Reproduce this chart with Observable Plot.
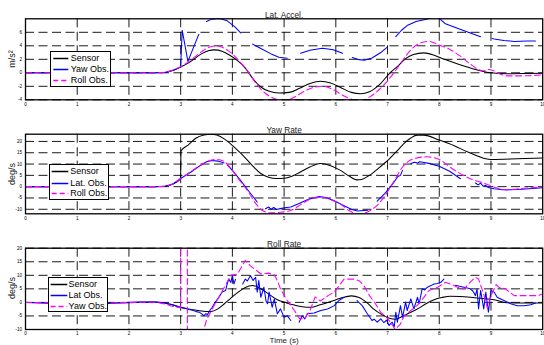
<!DOCTYPE html>
<html><head><meta charset="utf-8">
<script src="https://cdn.jsdelivr.net/npm/d3@7"></script>
<script src="https://cdn.jsdelivr.net/npm/@observablehq/plot@0.6"></script>
<style>
body{margin:0;background:#fff;font-family:"Liberation Sans",Arial,sans-serif;}
#wrap{position:relative;width:544px;height:345px;overflow:hidden;background:#fff;}
.panel{position:absolute;left:0;}
.legend{position:absolute;border:1.2px solid #000;background:#fff;box-sizing:border-box;}
.legend .row{position:absolute;left:0;right:0;height:11px;font-size:9px;line-height:11px;white-space:nowrap;color:#000;}
.legend svg{position:absolute;left:0;top:0;}
.ylab{position:absolute;font-size:9px;color:#222;white-space:nowrap;transform:translate(-50%,-50%) rotate(-90deg);line-height:1;}
</style></head>
<body><div id="wrap"></div>
<script>
// ---- tick values ----
const xTicks = [0,1,2,3,4,5,6,7,8,9,10];
const yTicksLat = [-4,-2,0,2,4,6];
const yTicksYaw = [-10,-5,0,5,10,15,20];
const yTicksRoll = [-10,-5,0,5,10,15,20];
const titles = ["Lat. Accel.", "Yaw Rate", "Roll Rate"];
const yLabels = ["m/s\u00B2", "deg/s", "deg/s"];
const xLabel = "Time (s)";
const legendLat = ["Sensor", "Yaw Obs.", "Roll Obs."];
const legendYaw = ["Sensor", "Lat. Obs.", "Roll Obs."];
const legendRoll = ["Sensor", "Lat Obs.", "Yaw Obs."];

// ---- Lat. Accel. (m/s^2) ----
const latSensor = [[0,0],[2.5,0],[2.7,0.05],[2.85,0.35],[3.0,0.85],[3.2,1.7],[3.4,2.8],[3.55,3.3],[3.65,3.4],[3.8,3.2],[3.95,2.6],[4.1,1.8],[4.25,0.7],[4.4,-0.9],[4.55,-2.1],[4.7,-2.7],[4.9,-3.0],[5.1,-2.9],[5.3,-2.3],[5.5,-1.6],[5.7,-1.25],[5.9,-1.5],[6.1,-2.2],[6.3,-2.9],[6.48,-3.1],[6.65,-2.8],[6.85,-1.7],[7.05,0.0],[7.2,1.0],[7.35,2.1],[7.5,2.7],[7.7,2.95],[7.9,2.6],[8.1,2.0],[8.4,1.2],[8.7,0.5],[9.0,0.0],[9.3,-0.15],[9.7,-0.1],[10,-0.05]];
const latYawObs = [[0,0],[2.5,0],[2.7,0.05],[2.85,0.35],[3.0,0.85],[3.03,6.3],[3.14,1.7],[3.35,5.7],[3.4,null],[3.5,7.6],[3.6,7.95],[3.75,8.05],[3.9,7.7],[4.05,6.8],[4.16,5.9],[4.25,null],[4.39,4.25],[4.55,3.6],[4.75,2.8],[4.9,2.3],[5.06,2.15],[5.2,null],[5.32,2.9],[5.5,3.35],[5.74,3.65],[5.95,3.4],[6.13,2.9],[6.2,null],[6.32,2.25],[6.45,1.95],[6.55,1.85],[6.7,2.2],[6.87,3.0],[7.0,3.85],[7.1,null],[7.16,5.35],[7.27,6.3],[7.38,7.0],[7.55,7.6],[7.75,7.95],[7.95,8.4],[8.12,7.25],[8.35,6.6],[8.6,5.9],[8.8,5.35],[8.9,null],[9.02,5.1],[9.06,5.0],[9.25,4.8],[9.45,4.65],[9.7,4.7],[9.86,4.7]];
const latRollObs = [[0,0],[2.5,0],[2.7,0.1],[2.85,0.4],[3.0,0.9],[3.2,1.9],[3.4,3.1],[3.55,3.8],[3.7,4.0],[3.85,3.6],[4.0,2.8],[4.15,1.6],[4.3,0.2],[4.45,-1.5],[4.6,-2.8],[4.75,-3.6],[4.9,-4.0],[5.05,-4.05],[5.2,-3.6],[5.4,-2.7],[5.6,-2.1],[5.75,-2.0],[5.95,-2.5],[6.15,-3.4],[6.35,-4.0],[6.5,-4.1],[6.65,-3.6],[6.85,-2.4],[7.0,-1.2],[7.15,0.3],[7.3,1.9],[7.45,3.4],[7.6,4.3],[7.8,4.65],[8.0,4.1],[8.2,3.5],[8.4,2.5],[8.6,1.3],[8.75,0.5],[8.85,0.3],[8.95,0.5],[9.05,0.3],[9.15,-0.1],[9.3,-0.45],[9.6,-0.45],[10,-0.3]];

// ---- Yaw Rate (deg/s) ----
const yawSensor = [[0,0],[2.5,0],[2.7,0.2],[2.85,1.2],[3.0,3.5],[3.005,15.8],[3.15,18.5],[3.3,21.5],[3.45,22.8],[3.58,23.2],[3.7,22.8],[3.85,21.0],[4.03,17.6],[4.15,15.0],[4.29,11.7],[4.42,8.5],[4.55,5.8],[4.7,4.2],[4.85,3.6],[5.0,3.7],[5.15,4.6],[5.3,6.3],[5.5,8.7],[5.7,10.2],[5.9,9.3],[6.09,7.2],[6.25,4.8],[6.41,3.0],[6.5,3.2],[6.65,5.0],[6.85,8.6],[7.04,12.4],[7.2,16.2],[7.32,19.1],[7.45,21.5],[7.57,22.8],[7.7,22.8],[8.0,20.6],[8.3,18.0],[8.54,15.4],[8.75,13.5],[8.9,12.3],[9.0,12.0],[9.5,12.3],[10,12.7]];
const yawLatObs = [[0,0],[2.5,0],[2.7,0.2],[2.85,1.2],[3.0,3.6],[3.2,6.5],[3.39,9.5],[3.5,11.0],[3.6,11.6],[3.72,11.3],[3.84,10.5],[3.87,null],[3.9,9.6],[4.0,7.2],[4.15,3.0],[4.3,-1.5],[4.48,-6.8],[4.56,null],[4.64,-9.8],[4.7,-9.0],[4.75,-10.0],[4.8,-9.2],[4.85,-10.1],[4.95,-9.6],[5.05,-9.2],[5.13,-9.0],[5.3,-7.3],[5.45,-5.8],[5.58,-4.9],[5.68,-4.4],[5.8,-4.8],[5.96,-6.1],[6.15,-8.3],[6.3,-10.0],[6.41,-10.8],[6.55,-10.5],[6.62,-10.4],[6.7,null],[6.8,-6.4],[6.95,-3.0],[7.1,1.2],[7.2,4.5],[7.25,5.0],[7.29,7.2],[7.37,null],[7.45,10.2],[7.52,10.8],[7.58,10.5],[7.62,11.0],[7.68,10.8],[7.8,10.3],[8.0,9.0],[8.2,6.8],[8.41,3.5],[8.55,null],[8.7,1.6],[8.75,0.8],[8.8,1.5],[8.85,0.2],[8.9,0.6],[8.95,-0.4],[9.06,-0.9],[9.2,-1.3],[9.38,-1.4],[9.6,-1.1],[9.8,-0.8],[10,-0.5]];
const yawRollObs = [[0,0],[2.5,0],[2.7,0.2],[2.85,1.2],[3.0,3.6],[3.2,6.7],[3.4,9.8],[3.55,11.5],[3.7,12.0],[3.85,11.0],[3.97,8.0],[4.1,4.0],[4.3,-2.0],[4.48,-8.3],[4.6,-10.8],[4.74,-11.6],[4.9,-11.4],[5.13,-10.5],[5.35,-7.5],[5.58,-4.9],[5.75,-4.8],[5.9,-5.8],[6.09,-7.7],[6.25,-10.5],[6.41,-12.0],[6.55,-11.7],[6.67,-10.5],[6.8,-8.3],[6.95,-4.0],[7.1,1.5],[7.32,9.5],[7.5,12.3],[7.76,13.2],[8.0,12.0],[8.28,7.5],[8.6,3.5],[8.8,2.0],[8.93,1.0],[9.1,-0.5],[9.3,-1.4],[9.5,-1.0],[9.7,-0.6],[10,-0.2]];

// ---- Roll Rate (deg/s) ----
const rollSensor = [[0,0],[0.5,-0.3],[1.0,-0.6],[1.5,-0.4],[2.0,-0.1],[2.5,0.1],[2.7,-0.3],[2.85,-1.0],[3.0,-1.9],[3.2,-2.6],[3.4,-3.2],[3.58,-3.4],[3.72,-2.4],[3.84,-0.6],[3.97,1.6],[4.1,3.6],[4.25,5.5],[4.38,6.2],[4.5,5.6],[4.65,3.8],[4.87,1.0],[5.05,-0.2],[5.2,-1.0],[5.35,-1.6],[5.51,-1.8],[5.7,-0.9],[5.9,0.3],[6.1,1.6],[6.3,2.4],[6.45,1.8],[6.6,-0.1],[6.74,-2.6],[6.9,-4.6],[7.05,-5.9],[7.15,-6.2],[7.3,-5.0],[7.45,-3.6],[7.6,-2.2],[7.75,-0.4],[7.9,1.0],[8.05,1.8],[8.22,2.3],[8.4,2.2],[8.6,1.9],[8.8,1.5],[9.06,1.0],[9.3,-0.1],[9.6,-0.2],[10,-0.2]];
const rollLatObs = [[0,0],[0.3,-0.1],[0.6,-0.3],[1.0,-0.4],[1.4,-0.3],[1.8,-0.1],[2.2,0.1],[2.5,0.15],[2.7,-0.2],[2.85,-0.9],[3.0,-1.8],[3.08,-2.1],[3.15,-2.6],[3.22,-2.8],[3.3,-3.4],[3.36,-3.6],[3.42,-4.4],[3.45,-5.0],[3.48,-4.2],[3.52,-4.5],[3.57,-2.8],[3.61,-1.8],[3.67,0.1],[3.74,1.9],[3.8,3.8],[3.87,4.4],[3.9,6.8],[3.93,8.6],[3.97,7.4],[4.0,9.9],[4.03,6.8],[4.06,8.5],[4.1,null],[4.2,6.8],[4.25,8.6],[4.29,7.9],[4.35,9.9],[4.4,8.1],[4.45,9.2],[4.48,3.8],[4.51,8.1],[4.55,1.9],[4.61,5.6],[4.65,0.5],[4.68,-0.5],[4.71,3.8],[4.77,-1.8],[4.81,1.3],[4.87,-4.2],[4.93,-2.4],[5.0,-5.5],[5.06,-4.9],[5.13,-6.7],[5.2,null],[5.29,-7.3],[5.35,-4.9],[5.4,-6.1],[5.45,-4.2],[5.58,-3.9],[5.71,-3.0],[5.84,-2.4],[5.97,-1.2],[6.06,0.7],[6.16,1.9],[6.3,null],[6.41,0.7],[6.51,-1.2],[6.6,-3.9],[6.7,-6.7],[6.74,-6.2],[6.8,-7.3],[6.87,-6.1],[6.93,-7.5],[6.98,-6.5],[7.03,-8.5],[7.09,-7.3],[7.13,-9.0],[7.16,-3.6],[7.19,-7.3],[7.25,-1.2],[7.29,-5.5],[7.35,0.1],[7.38,-3.0],[7.45,1.3],[7.51,-2.4],[7.58,1.9],[7.61,-0.5],[7.67,5.0],[7.72,4.6],[7.77,5.6],[7.84,6.2],[7.9,6.8],[7.97,7.0],[8.03,7.4],[8.09,8.6],[8.2,null],[8.31,6.3],[8.41,5.9],[8.5,5.5],[8.6,5.0],[8.65,4.2],[8.7,2.5],[8.73,5.0],[8.76,-2.4],[8.8,4.4],[8.86,-2.4],[8.9,3.8],[8.95,-3.6],[9.0,4.4],[9.06,3.8],[9.12,1.9],[9.25,0.7],[9.38,-0.5],[9.51,-1.2],[9.64,-1.2],[9.77,-0.9],[9.86,-0.2]];
const rollYawObs = [[0,0],[0.5,-0.2],[1.0,-0.4],[1.5,-0.3],[2.0,0],[2.5,0.1],[2.7,-0.6],[2.85,-1.5],[3.0,-2.0],[3.0,40],[3.13,40],[3.13,-40],[3.42,-12],[3.5,-6.5],[3.65,-1],[3.8,4],[3.97,10],[4.1,10.5],[4.25,15.5],[4.35,13.5],[4.55,10.5],[4.7,10.8],[4.81,10.2],[4.87,8.0],[4.93,5.0],[5.05,1],[5.2,-3],[5.3,-6],[5.4,-6],[5.5,-3],[5.6,2],[5.7,0.5],[5.85,2.5],[5.97,3.8],[6.16,8.6],[6.35,8.6],[6.45,8],[6.55,6],[6.65,2.5],[6.75,0],[6.87,-3.7],[6.96,-5],[7.06,-7.4],[7.15,-10],[7.25,-8],[7.32,-5],[7.45,-3],[7.58,-1],[7.68,1.3],[7.8,4.4],[7.97,5.6],[8.12,7.4],[8.25,6.5],[8.35,5.6],[8.48,5.0],[8.6,7.5],[8.7,9.3],[8.76,8.6],[8.86,3],[8.93,-2.0],[9.0,2.5],[9.1,6.6],[9.15,5.6],[9.28,5.0],[9.45,2.5],[9.58,2.5],[9.7,2.5],[9.9,2.5],[10,3.1]];

const toRows = a => a.map(([x, y]) => ({x, y}));
const FONT = '"Liberation Sans", Arial, sans-serif';
const DASH_GRID = "9,4.5";
const DASH_LINE = "6,3.5";
const BLUE = "#0000ff", MAG = "#ff00ff";
const wrap = document.getElementById("wrap");

function panel({top, mt, mb, domain, yTicks, title, ylabel, series, curves, withX}) {
  const grid = [
    Plot.ruleY(yTicks, {stroke: "#000", strokeWidth: 0.9, strokeDasharray: DASH_GRID}),
    Plot.ruleX(xTicks.slice(1, -1), {stroke: "#000", strokeWidth: 0.9, strokeDasharray: DASH_GRID})
  ];
  const lines = [
    Plot.line(toRows(series[0]), {x: "x", y: "y", stroke: "#000", strokeWidth: 1.05, curve: curves[0], clip: true}),
    Plot.line(toRows(series[1]), {x: "x", y: "y", stroke: BLUE, strokeWidth: 1.05, curve: curves[1], clip: true}),
    Plot.line(toRows(series[2]), {x: "x", y: "y", stroke: MAG, strokeWidth: 1.1, strokeDasharray: DASH_LINE, curve: curves[2], clip: true})
  ];
  const texts = [
    Plot.text([title], {text: d => d, frameAnchor: "top", dy: -7, fontSize: 8.3, fill: "#222"})
  ];
  if (withX) texts.push(Plot.text([xLabel], {text: d => d, frameAnchor: "bottom", dy: 13.5, fontSize: 8, fill: "#222"}));
  const height = 115;
  const chart = Plot.plot({
    width: 544, height,
    marginLeft: 25, marginRight: 1.8, marginTop: mt, marginBottom: mb,
    style: {fontFamily: FONT, fontSize: "4.6px", background: "transparent", overflow: "visible", color: "#000"},
    x: {domain: [0, 10], ticks: xTicks, tickSize: 0, tickPadding: 2.5, tickFormat: d => String(d), label: null},
    y: {domain, ticks: yTicks, tickSize: 0, tickPadding: 3.5, tickFormat: d => String(d), label: null},
    marks: [...grid, ...lines, Plot.frame({stroke: "#000", strokeWidth: 1.3}), ...texts]
  });
  chart.classList.add("panel");
  chart.style.top = top + "px";
  wrap.appendChild(chart);
  const yl = document.createElement("div");
  yl.className = "ylab";
  yl.textContent = ylabel;
  yl.style.left = "12px";
  yl.style.top = (top + mt + (height - mt - mb) / 2) + "px";
  wrap.appendChild(yl);
}

panel({top: 0, mt: 18.3, mb: 15.7, domain: [-4, 8], yTicks: yTicksLat, title: titles[0], ylabel: yLabels[0],
  series: [latSensor, latYawObs, latRollObs], curves: ["monotone-x", "linear", "monotone-x"]});
panel({top: 115, mt: 18.7, mb: 16.7, domain: [-12, 23.2], yTicks: yTicksYaw, title: titles[1], ylabel: yLabels[1],
  series: [yawSensor, yawLatObs, yawRollObs], curves: ["monotone-x", "linear", "monotone-x"]});
panel({top: 230, mt: 17.7, mb: 16, domain: [-10, 20], yTicks: yTicksRoll, title: titles[2], ylabel: yLabels[2],
  series: [rollSensor, rollLatObs, rollYawObs], curves: ["monotone-x", "linear", "linear"], withX: true});

function legend(labels, box, rows, sample, textX) {
  const el = document.createElement("div");
  el.className = "legend";
  Object.assign(el.style, {left: box[0] + "px", top: box[1] + "px", width: box[2] + "px", height: box[3] + "px"});
  const styles = [["#000", null], [BLUE, null], [MAG, "5,3"]];
  labels.forEach((lab, i) => {
    const r = document.createElement("div");
    r.className = "row";
    r.style.top = (rows[i] - 5.5) + "px";
    const [c, d] = styles[i];
    r.innerHTML = `<svg width="20" height="11"><line x1="${sample[0]}" x2="${sample[1]}" y1="5.5" y2="5.5" stroke="${c}" stroke-width="1.5" ${d ? `stroke-dasharray="${d}"` : ""}/></svg><span style="position:absolute;left:${textX}px;top:0">${lab}</span>`;
    el.appendChild(r);
  });
  wrap.appendChild(el);
}
legend(legendLat, [50, 51, 61, 36], [6.6, 17.6, 28.3], [2.3, 17.3], 19.7);
legend(legendYaw, [49.3, 164, 59.5, 35.5], [6.4, 18, 28.6], [1.7, 18.3], 20);
legend(legendRoll, [47.7, 276.7, 60, 35.6], [7, 17.6, 28.6], [1.6, 18.3], 19.9);
</script></body></html>
